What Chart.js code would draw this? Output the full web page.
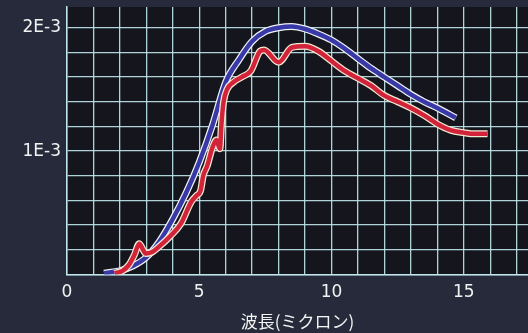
<!DOCTYPE html>
<html>
<head>
<meta charset="utf-8">
<script src="https://cdn.jsdelivr.net/npm/chart.js@4/dist/chart.umd.min.js"></script>
<style>
  html, body { margin: 0; padding: 0; background: #262a3a; }
  #wrap { width: 528px; height: 333px; position: relative; }
</style>
</head>
<body>
<div id="wrap"><canvas id="c" width="528" height="333"></canvas></div>
<script>
// Wavelength (microns) and spectral intensity for the smooth theoretical curve
const blueWavelength = [1.4, 2.0, 2.5, 3.0, 3.5, 4.0, 4.5, 5.0, 5.5, 6.0, 6.5, 7.0, 7.5, 8.0, 8.5, 9.0, 9.5, 10.0, 10.5, 11.0, 11.5, 12.0, 12.5, 13.0, 13.5, 14.0, 14.7];
const blueIntensity = [0.01e-3, 0.03e-3, 0.07e-3, 0.14e-3, 0.27e-3, 0.45e-3, 0.66e-3, 0.91e-3, 1.21e-3, 1.56e-3, 1.74e-3, 1.89e-3, 1.97e-3, 2.00e-3, 2.01e-3, 1.99e-3, 1.95e-3, 1.90e-3, 1.83e-3, 1.75e-3, 1.67e-3, 1.60e-3, 1.53e-3, 1.46e-3, 1.40e-3, 1.35e-3, 1.27e-3];

// Wavelength (microns) and spectral intensity for the measured curve
const redWavelength = [1.8, 2.1, 2.35, 2.55, 2.73, 2.85, 2.97, 3.2, 3.5, 3.9, 4.3, 4.7, 4.9, 5.05, 5.15, 5.3, 5.5, 5.65, 5.78, 5.84, 5.92, 6.05, 6.3, 6.6, 6.95, 7.3, 7.45, 8.0, 8.5, 9.0, 9.5, 10.0, 10.5, 11.0, 11.5, 12.0, 12.5, 13.0, 13.5, 14.0, 14.5, 15.0, 15.4, 15.9];
const redIntensity = [0.01e-3, 0.03e-3, 0.08e-3, 0.16e-3, 0.25e-3, 0.21e-3, 0.17e-3, 0.18e-3, 0.23e-3, 0.31e-3, 0.41e-3, 0.59e-3, 0.64e-3, 0.68e-3, 0.80e-3, 0.88e-3, 1.03e-3, 1.09e-3, 1.02e-3, 1.22e-3, 1.40e-3, 1.50e-3, 1.56e-3, 1.60e-3, 1.65e-3, 1.81e-3, 1.82e-3, 1.72e-3, 1.84e-3, 1.85e-3, 1.81e-3, 1.73e-3, 1.65e-3, 1.59e-3, 1.53e-3, 1.45e-3, 1.40e-3, 1.35e-3, 1.29e-3, 1.22e-3, 1.17e-3, 1.15e-3, 1.14e-3, 1.14e-3];

// Labelled ticks
const xTickLabels = [0, 5, 10, 15];
const yTickLabels = ['1E-3', '2E-3'];
const yTickValues = [1e-3, 2e-3];
const xAxisTitle = '波長(ミクロン)';

const toPoints = (xs, ys) => xs.map((x, i) => ({ x: x, y: ys[i] }));

const OUTER_BG = '#262a3a';
const PLOT_BG = '#14151d';
const GRID = 'rgba(192,232,236,0.9)';
const TICK_FONT = { family: "'DejaVu Sans', sans-serif", size: 17 };

const backgrounds = {
  id: 'backgrounds',
  beforeDraw(chart) {
    const { ctx, chartArea: a } = chart;
    ctx.save();
    ctx.fillStyle = OUTER_BG;
    ctx.fillRect(0, 0, chart.width, chart.height);
    ctx.fillStyle = PLOT_BG;
    ctx.fillRect(a.left, a.top, a.right - a.left, a.bottom - a.top);
    ctx.restore();
  }
};

const lineBase = { pointRadius: 0, cubicInterpolationMode: 'monotone', fill: false, borderCapStyle: 'butt', borderJoinStyle: 'round' };

new Chart(document.getElementById('c'), {
  type: 'line',
  data: {
    datasets: [
      Object.assign({ label: 'measured', data: toPoints(redWavelength, redIntensity), borderColor: '#d3233a', borderWidth: 4.5, order: 0 }, lineBase),
      Object.assign({ label: 'measured-edge', data: toPoints(redWavelength, redIntensity), borderColor: '#f2e8d2', borderWidth: 7, order: 1 }, lineBase),
      Object.assign({ label: 'theory', data: toPoints(blueWavelength, blueIntensity), borderColor: '#3838a6', borderWidth: 4.5, order: 2 }, lineBase),
      Object.assign({ label: 'theory-edge', data: toPoints(blueWavelength, blueIntensity), borderColor: '#eef2f8', borderWidth: 7, order: 3 }, lineBase)
    ]
  },
  options: {
    responsive: false,
    animation: false,
    events: [],
    layout: { padding: { top: 7, right: 0, left: 0, bottom: 0 } },
    plugins: { legend: { display: false }, tooltip: { enabled: false } },
    scales: {
      x: {
        type: 'linear',
        min: 0,
        max: 17.43,
        afterFit(s) { s.height = 58.5; s.paddingLeft = 0; s.paddingRight = 0; },
        border: { display: true, color: GRID, width: 1.5 },
        grid: { color: GRID, lineWidth: 1.3, drawTicks: false },
        ticks: {
          stepSize: 1,
          includeBounds: false,
          autoSkip: false,
          maxRotation: 0,
          padding: 8,
          color: '#f2f2f2',
          font: TICK_FONT,
          callback: (v) => xTickLabels.includes(v) ? String(v) : ''
        },
        title: {
          display: true,
          text: xAxisTitle,
          color: '#f4f4f4',
          font: { family: "'Noto Sans CJK JP', sans-serif", size: 17 },
          padding: { top: 0, bottom: 1 }
        }
      },
      y: {
        type: 'linear',
        min: 0,
        max: 2.168e-3,
        afterFit(s) { s.width = 67; s.paddingTop = 0; s.paddingBottom = 0; },
        border: { display: true, color: GRID, width: 1.5 },
        grid: { color: GRID, lineWidth: 1.3, drawTicks: false },
        ticks: {
          stepSize: 0.2e-3,
          includeBounds: false,
          autoSkip: false,
          padding: 6,
          color: '#f2f2f2',
          font: TICK_FONT,
          callback: (v) => {
            const i = yTickValues.findIndex(t => Math.abs(t - v) < 1e-9);
            return i >= 0 ? yTickLabels[i] : '';
          }
        }
      }
    }
  },
  plugins: [backgrounds]
});
</script>
</body>
</html>
